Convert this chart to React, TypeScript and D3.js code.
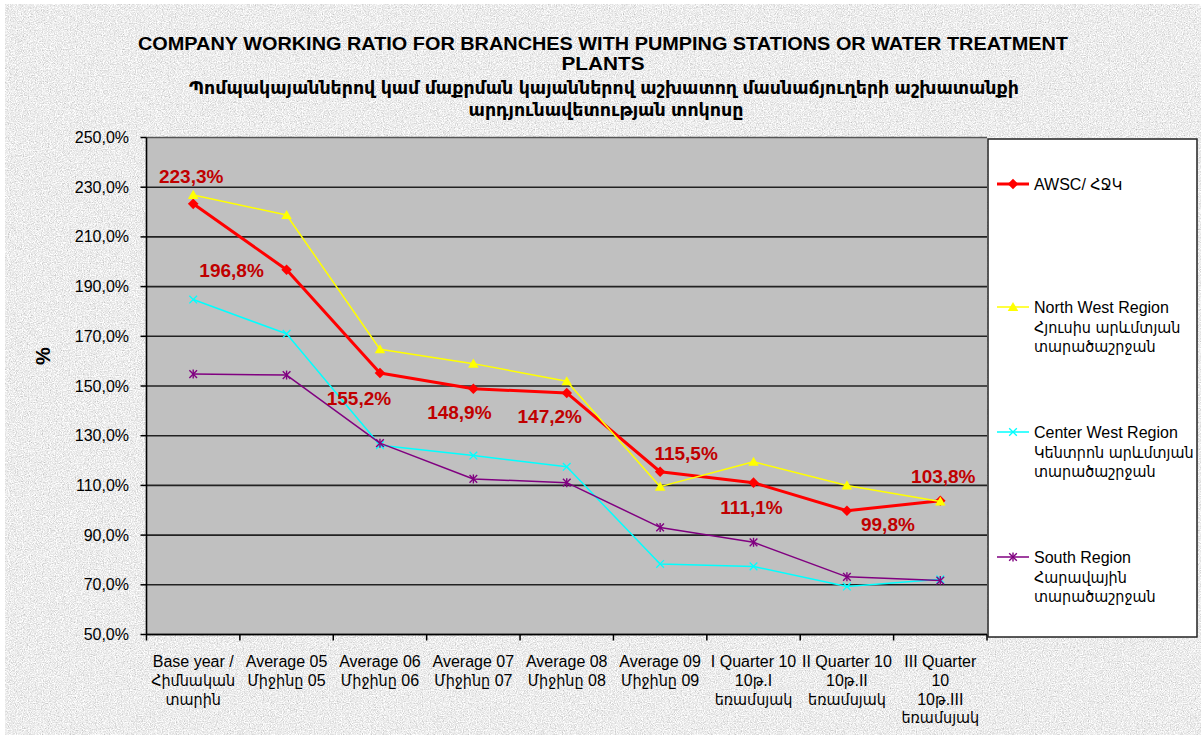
import React from 'react';
import * as d3 from 'd3';

const categories: string[][] = [
  ['Base year /', 'Հիմնական', 'տարին'],
  ['Average 05', 'Միջինը 05'],
  ['Average 06', 'Միջինը 06'],
  ['Average 07', 'Միջինը 07'],
  ['Average 08', 'Միջինը 08'],
  ['Average 09', 'Միջինը 09'],
  ['I Quarter 10', '10թ.I', 'եռամսյակ'],
  ['II Quarter 10', '10թ.II', 'եռամսյակ'],
  ['III Quarter', '10', '10թ.III', 'եռամսյակ'],
];

const awsc = [223.3, 196.8, 155.2, 148.9, 147.2, 115.5, 111.1, 99.8, 103.8];
const northWest = [226.9, 218.8, 164.8, 159.0, 151.9, 109.5, 119.5, 110.0, 103.5];
const centerWest = [184.8, 171.0, 126.2, 122.0, 117.5, 78.4, 77.4, 69.3, 72.2];
const south = [154.8, 154.4, 127.0, 112.6, 111.1, 93.1, 87.1, 73.2, 71.7];

const yTicks = [50, 70, 90, 110, 130, 150, 170, 190, 210, 230, 250];

const awscLabels = ['223,3%', '196,8%', '155,2%', '148,9%', '147,2%', '115,5%', '111,1%', '99,8%', '103,8%'];
// label offsets relative to the point (styling)
const labelOffsets: [number, number][] = [
  [-2, -21], [-55, 7], [-21, 32], [-14, 30], [-17, 30], [26, -12], [-2, 31], [41, 20], [3, -18],
];

const titleLines = [
  'COMPANY WORKING RATIO FOR BRANCHES WITH PUMPING STATIONS OR WATER TREATMENT',
  'PLANTS',
  'Պոմպակայաններով կամ մաքրման կայաններով աշխատող մասնաճյուղերի աշխատանքի',
  'արդյունավետության տոկոսը',
];

const legendItems: { lines: string[]; key: string }[] = [
  { key: 'awsc', lines: ['AWSC/ ՀՋԿ'] },
  { key: 'nw', lines: ['North West Region', 'Հյուսիս արևմտյան', 'տարածաշրջան'] },
  { key: 'cw', lines: ['Center West Region', 'Կենտրոն արևմտյան', 'տարածաշրջան'] },
  { key: 's', lines: ['South Region', 'Հարավային', 'տարածաշրջան'] },
];

const FONT = "'Liberation Sans', Arial, 'DejaVu Sans Condensed', 'DejaVu Sans', sans-serif";

const series = [
  { key: 'awsc', values: awsc, color: '#ff0000', width: 3, marker: 'diamond' },
  { key: 'nw', values: northWest, color: '#ffff00', width: 1.5, marker: 'triangle' },
  { key: 'cw', values: centerWest, color: '#00ffff', width: 1.5, marker: 'x' },
  { key: 's', values: south, color: '#800080', width: 1.5, marker: 'star' },
];

function Marker({ type, x, y, color }: { type: string; x: number; y: number; color: string }) {
  if (type === 'diamond') {
    const p = d3.symbol(d3.symbolSquare, 56)();
    return <path d={p || ''} transform={`translate(${x},${y}) rotate(45)`} fill={color} />;
  }
  if (type === 'triangle') {
    const p = d3.symbol(d3.symbolTriangle, 48)();
    return <path d={p || ''} transform={`translate(${x},${y + 1})`} fill={color} />;
  }
  if (type === 'x') {
    const p = d3.symbol(d3.symbolTimes, 40)();
    return <path d={p || ''} transform={`translate(${x},${y})`} fill="none" stroke={color} strokeWidth={1.3} />;
  }
  const p = d3.symbol(d3.symbolTimes, 40)();
  return (
    <g transform={`translate(${x},${y})`}>
      <path d={p || ''} fill="none" stroke={color} strokeWidth={1.4} />
      <line x1={0} x2={0} y1={-4.5} y2={4.5} stroke={color} strokeWidth={1.4} />
    </g>
  );
}

export default function App() {
  const left = 146.5, right = 987, top = 137.5, bottom = 634.5;
  const x = d3.scaleBand<number>().domain(d3.range(categories.length)).range([left, right]);
  const y = d3.scaleLinear().domain([50, 250]).range([bottom, top]);
  const cx = (i: number) => (x(i) as number) + x.bandwidth() / 2;
  const line = d3.line<number>().x((_, i) => cx(i)).y((d) => y(d));
  const fmt = (v: number) => d3.format('.1f')(v).replace('.', ',') + '%';

  const legendY = [184, 307, 432, 557];

  return (
    <div style={{ position: 'absolute', left: 0, top: 0 }}>
      <svg width={1203} height={735} style={{ display: 'block' }} fontFamily={FONT}>
        <defs>
          <filter id="noise" x="0" y="0" width="100%" height="100%" colorInterpolationFilters="sRGB">
            <feTurbulence type="fractalNoise" baseFrequency="0.85" numOctaves="3" seed="7" result="t" />
            <feColorMatrix type="matrix" values="0.33 0.33 0.33 0 0  0.33 0.33 0.33 0 0  0.33 0.33 0.33 0 0  0 0 0 0 1" />
            <feComponentTransfer>
              <feFuncR type="linear" slope="0.7" intercept="0.58" />
              <feFuncG type="linear" slope="0.7" intercept="0.58" />
              <feFuncB type="linear" slope="0.7" intercept="0.58" />
            </feComponentTransfer>
          </filter>
        </defs>
        <rect x={0} y={0} width={1203} height={735} fill="#ffffff" />
        <rect x={5} y={4} width={1196} height={731} fill="#e8e8e8" filter="url(#noise)" />

        {/* title */}
        <g fontWeight="bold" textAnchor="middle" fill="#000">
          <text x={603} y={50} fontSize={18} textLength={930} lengthAdjust="spacingAndGlyphs">{titleLines[0]}</text>
          <text x={603} y={70} fontSize={18} textLength={83} lengthAdjust="spacingAndGlyphs">{titleLines[1]}</text>
          <text x={604} y={94} fontSize={17} textLength={830} lengthAdjust="spacingAndGlyphs">{titleLines[2]}</text>
          <text x={606} y={116} fontSize={17} textLength={275} lengthAdjust="spacingAndGlyphs">{titleLines[3]}</text>
        </g>

        {/* plot area */}
        <rect x={left} y={top} width={right - left} height={bottom - top} fill="#c0c0c0" />
        {yTicks.map((t) => (
          <line key={t} x1={left} x2={right} y1={y(t)} y2={y(t)} stroke={t === 250 ? '#555' : '#222'} strokeWidth={1.6} />
        ))}
        {/* y axis */}
        <line x1={left} x2={left} y1={top} y2={bottom} stroke="#000" strokeWidth={1.6} />
        {yTicks.map((t) => (
          <g key={'yt' + t}>
            <line x1={left - 6} x2={left} y1={y(t)} y2={y(t)} stroke="#000" strokeWidth={1.5} />
            <text x={129} y={y(t) + 5.5} fontSize={16} textAnchor="end" fill="#000">{fmt(t)}</text>
          </g>
        ))}
        {/* x axis */}
        <line x1={left} x2={right} y1={bottom} y2={bottom} stroke="#000" strokeWidth={1.6} />
        {d3.range(categories.length + 1).map((i) => {
          const xx = left + i * x.bandwidth();
          return <line key={'xt' + i} x1={xx} x2={xx} y1={bottom} y2={bottom + 6} stroke="#000" strokeWidth={1.5} />;
        })}
        {categories.map((lines, i) => (
          <text key={'xl' + i} x={cx(i)} y={667} fontSize={16} textAnchor="middle" fill="#000">
            {lines.map((l, j) => (
              <tspan key={j} x={cx(i)} dy={j === 0 ? 0 : 18.8}>{l}</tspan>
            ))}
          </text>
        ))}
        <text transform="translate(50,356) rotate(-90)" fontSize={20} fontWeight="bold" textAnchor="middle">%</text>

        {/* series */}
        {series.map((s) => (
          <g key={s.key}>
            <path d={line(s.values) || ''} fill="none" stroke={s.color} strokeWidth={s.width} strokeLinejoin="round" />
            {s.values.map((v, i) => (
              <Marker key={i} type={s.marker} x={cx(i)} y={y(v)} color={s.color} />
            ))}
          </g>
        ))}

        {/* data labels */}
        {awsc.map((v, i) => (
          <text key={'dl' + i} x={cx(i) + labelOffsets[i][0]} y={y(v) + labelOffsets[i][1]} fontSize={19} fontWeight="bold" fill="#c00000" textAnchor="middle">
            {awscLabels[i]}
          </text>
        ))}

        {/* legend */}
        <rect x={988} y={139} width={209} height={498} fill="#ffffff" stroke="#222" strokeWidth={1.5} />
        {legendItems.map((item, k) => {
          const s = series[k];
          const ly = legendY[k];
          return (
            <g key={item.key}>
              <line x1={997} x2={1029} y1={ly} y2={ly} stroke={s.color} strokeWidth={s.width} />
              <Marker type={s.marker} x={1013} y={ly} color={s.color} />
              <text x={1034} y={ly + 6} fontSize={16} fill="#000">
                {item.lines.map((l, j) => (
                  <tspan key={j} x={1034} dy={j === 0 ? 0 : 19.7}>{l}</tspan>
                ))}
              </text>
            </g>
          );
        })}
      </svg>
    </div>
  );
}
